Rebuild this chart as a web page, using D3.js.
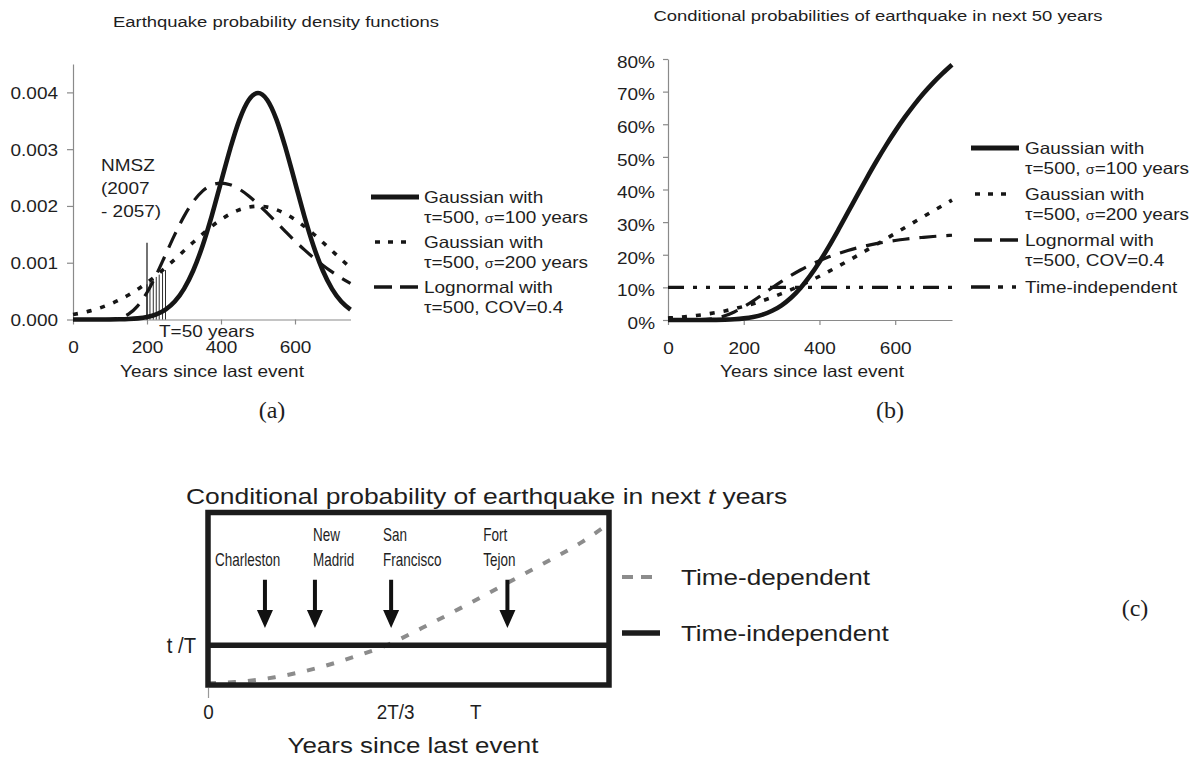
<!DOCTYPE html>
<html>
<head>
<meta charset="utf-8">
<script src="https://cdn.jsdelivr.net/npm/d3@7"></script>
<style>
  body { margin: 0; background: #fff; }
  svg { display: block; }
  text { font-family: "Liberation Sans", Arial, Helvetica, sans-serif; fill: #1e1e1e; }
  .serif { font-family: "Liberation Serif", "Times New Roman", serif; }
</style>
</head>
<body>
<svg id="fig" width="1200" height="758"></svg>
<script>
// ---------- data ----------
// years since last event (x) shared by the curves of panels (a) and (b)
const years = [0, 25, 50, 75, 100, 125, 150, 175, 200, 225, 250, 275, 300, 325, 350, 375,
               400, 425, 450, 475, 500, 525, 550, 575, 600, 625, 650, 675, 700, 725, 750];

// (a) probability density functions
const pdfGauss100 = [0, 0, 0, 0, 0.0000013, 0.0000035, 0.0000087, 0.0000203, 0.0000443, 0.0000909,
  0.000175, 0.000317, 0.000540, 0.000863, 0.001295, 0.001826, 0.002420, 0.003011, 0.003521, 0.003866,
  0.003989, 0.003866, 0.003521, 0.003011, 0.002420, 0.001826, 0.001295, 0.000863, 0.000540, 0.000317, 0.000175];
const pdfGauss200 = [0.0000876, 0.000119, 0.000159, 0.000209, 0.000270, 0.000344, 0.000431, 0.000533,
  0.000648, 0.000775, 0.000913, 0.001059, 0.001210, 0.001360, 0.001506, 0.001641, 0.001760, 0.001859,
  0.001933, 0.001979, 0.001995, 0.001979, 0.001933, 0.001859, 0.001760, 0.001641, 0.001506, 0.001360,
  0.001210, 0.001059, 0.000913];
const pdfLognormal = [0, 0, 0, 0, 0.0000037, 0.0000251, 0.0000937, 0.000240, 0.000475, 0.000786,
  0.001140, 0.001495, 0.001816, 0.002076, 0.002261, 0.002368, 0.002402, 0.002373, 0.002294, 0.002176,
  0.002033, 0.001874, 0.001709, 0.001544, 0.001383, 0.001230, 0.001088, 0.000957, 0.000838, 0.000731, 0.000636];

// shaded NMSZ window (2007-2057), T = 50 years
const windowYears = [200, 208, 217, 225, 233, 242, 250];
const windowTop   = [0.00062, 0.00066, 0.00071, 0.00075, 0.00079, 0.00083, 0.00087];
const nmszMarker  = { year: 200, top: 0.00135 };

// (b) conditional probability of an event in the next 50 years
const condGauss100 = [0, 0, 0, 0, 0.0002, 0.0005, 0.0011, 0.0024, 0.0049, 0.0093, 0.0166, 0.0282,
  0.0451, 0.0683, 0.0984, 0.1353, 0.1781, 0.2258, 0.2769, 0.3297, 0.3829, 0.4352, 0.4858, 0.5338,
  0.5789, 0.6208, 0.6595, 0.6950, 0.7270, 0.7561, 0.7826];
const condGauss200 = [0.0061, 0.0081, 0.0107, 0.0138, 0.0177, 0.0224, 0.0279, 0.0343, 0.0416, 0.0499,
  0.0593, 0.0696, 0.0808, 0.0929, 0.1059, 0.1197, 0.1341, 0.1492, 0.1649, 0.1810, 0.1974, 0.2142,
  0.2311, 0.2483, 0.2655, 0.2827, 0.2999, 0.3171, 0.3341, 0.3509, 0.3676];
const condLognormal = [0, 0, 0, 0.0003, 0.0017, 0.0053, 0.0128, 0.0245, 0.0402, 0.0588, 0.0787, 0.0989,
  0.1184, 0.1367, 0.1533, 0.1684, 0.1818, 0.1936, 0.2040, 0.2132, 0.2211, 0.2280, 0.2340, 0.2392,
  0.2437, 0.2476, 0.2508, 0.2535, 0.2560, 0.2580, 0.2597];
const condTimeIndependent = [0.10, 0.10];
const timeIndependentYears = [0, 750];

// tick labels
const pdfTicks  = [0, 0.001, 0.002, 0.003, 0.004];
const probTicks = [0, 0.1, 0.2, 0.3, 0.4, 0.5, 0.6, 0.7, 0.8];
const yearTicks = [0, 200, 400, 600];

// (c) schematic, x in units of the mean recurrence T
const cTickValues = [0, 2 / 3, 1];
const cTickLabels = ["0", "2T/3", "T"];
const cTimeIndependent = 0.23;            // t/T
const cDependentX = [0, 0.1, 0.25, 0.4, 0.55, 0.667, 0.8, 0.95, 1.1, 1.25, 1.4, 1.49];
const cDependentY = [0.01, 0.017, 0.045, 0.095, 0.165, 0.23, 0.33, 0.45, 0.575, 0.70, 0.83, 0.925];
const cities     = [["", "Charleston"], ["New", "Madrid"], ["San", "Francisco"], ["Fort", "Tejon"]];
const cityAt     = [0.213, 0.40, 0.685, 1.12];

// ---------- helpers ----------
const svg = d3.select("#fig");
svg.append("rect").attr("width", 1200).attr("height", 758).attr("fill", "#fff");

// the figure's lettering is slightly wide; widen each text by a factor
function widen(sel, k) {
  sel.each(function () {
    const L = this.getComputedTextLength();
    this.setAttribute("textLength", (L * k).toFixed(1));
    this.setAttribute("lengthAdjust", "spacingAndGlyphs");
  });
}
const K = 1.15;
const INK = "#161616";
const AXIS = "#8a8a8a";

function styleAxis(g) {
  g.select(".domain").attr("stroke", AXIS).attr("stroke-width", 1.2);
  g.selectAll(".tick line").attr("stroke", AXIS).attr("stroke-width", 1.2);
  g.selectAll(".tick text").attr("fill", "#1e1e1e").style("font-size", "16.5px")
    .attr("font-family", null);
  g.attr("font-family", null).attr("font-size", null);
}

// legend line with two text rows (second row may hold a small sigma)
function legendEntry(g, x0, x1, tx, y, style, line1, line2) {
  const ln = g.append("line").attr("x1", x0).attr("x2", x1).attr("y1", y).attr("y2", y)
    .attr("stroke", INK).attr("stroke-width", style.w);
  if (style.dash) ln.attr("stroke-dasharray", style.dash);
  const t1 = g.append("text").attr("x", tx).attr("y", y + 6).style("font-size", "16.5px").text(line1);
  widen(t1, K);
  if (line2) {
    const t2 = g.append("text").attr("x", tx).attr("y", y + 26).style("font-size", "16.5px");
    line2.forEach(p => {
      const s = t2.append("tspan").text(p.t);
      if (p.small) s.style("font-size", "12.5px");
    });
    widen(t2, K);
  }
}

// ---------- panel (a) ----------
const xA = d3.scaleLinear().domain([0, 750]).range([73, 350.5]);
const yA = d3.scaleLinear().domain([0, 0.0045]).range([319.5, 64]);
const gA = svg.append("g");

const tA = gA.append("text").attr("x", 276).attr("y", 27).attr("text-anchor", "middle")
  .style("font-size", "15.5px").text("Earthquake probability density functions");
widen(tA, 1.19);

const axYA = gA.append("g").attr("transform", `translate(${xA(0)},0)`)
  .call(d3.axisLeft(yA).tickValues(pdfTicks).tickFormat(d3.format(".3f")).tickSize(6).tickSizeOuter(0).tickPadding(9));
styleAxis(axYA);
axYA.selectAll(".tick text").attr("dy", "0.36em");
widen(axYA.selectAll(".tick text"), K);

const axXA = gA.append("g").attr("transform", `translate(0,${yA(0)})`)
  .call(d3.axisBottom(xA).tickValues(yearTicks).tickFormat(d3.format("d")).tickSize(5).tickSizeOuter(0).tickPadding(17));
styleAxis(axXA);
widen(axXA.selectAll(".tick text"), K);

const lineA = d3.line().x((d, i) => xA(years[i])).y(d => yA(d)).curve(d3.curveMonotoneX);

// NMSZ window: marker and hatching
gA.append("line").attr("x1", xA(nmszMarker.year)).attr("x2", xA(nmszMarker.year))
  .attr("y1", yA(0)).attr("y2", yA(nmszMarker.top)).attr("stroke", INK).attr("stroke-width", 1.2);
gA.append("g").selectAll("line").data(windowYears).join("line")
  .attr("x1", d => xA(d)).attr("x2", d => xA(d))
  .attr("y1", yA(0)).attr("y2", (d, i) => yA(windowTop[i]))
  .attr("stroke", INK).attr("stroke-width", 0.9);

gA.append("path").attr("d", lineA(pdfGauss200)).attr("fill", "none").attr("stroke", INK)
  .attr("stroke-width", 3.6).attr("stroke-dasharray", "5,9");
gA.append("path").attr("d", lineA(pdfLognormal)).attr("fill", "none").attr("stroke", INK)
  .attr("stroke-width", 3.2).attr("stroke-dasharray", "17,10");
gA.append("path").attr("d", lineA(pdfGauss100)).attr("fill", "none").attr("stroke", INK)
  .attr("stroke-width", 4.6);

[["NMSZ", 171], ["(2007", 194], ["- 2057)", 217]].forEach(([s, y]) => {
  widen(gA.append("text").attr("x", 101).attr("y", y).style("font-size", "16.5px").text(s), K);
});
widen(gA.append("text").attr("x", 159).attr("y", 337).style("font-size", "16.5px").text("T=50 years"), K);
widen(gA.append("text").attr("x", 212).attr("y", 377).attr("text-anchor", "middle")
  .style("font-size", "16.5px").text("Years since last event"), K);

const lgA = gA.append("g");
legendEntry(lgA, 371, 419, 424, 197, { w: 5 }, "Gaussian with",
  [{ t: "τ=500, " }, { t: "σ", small: true }, { t: "=100 years" }]);
legendEntry(lgA, 375, 406, 424, 242, { w: 3.6, dash: "5,8" }, "Gaussian with",
  [{ t: "τ=500, " }, { t: "σ", small: true }, { t: "=200 years" }]);
legendEntry(lgA, 374, 418, 424, 287, { w: 3.4, dash: "18,8" }, "Lognormal with",
  [{ t: "τ=500, COV=0.4" }]);

svg.append("text").attr("class", "serif").attr("x", 272).attr("y", 418).attr("text-anchor", "middle")
  .style("font-size", "24px").text("(a)");

// ---------- panel (b) ----------
const xB = d3.scaleLinear().domain([0, 750]).range([668, 952]);
const yB = d3.scaleLinear().domain([0, 0.8]).range([320, 59]);
const gB = svg.append("g");

const tB = gB.append("text").attr("x", 878).attr("y", 21).attr("text-anchor", "middle")
  .style("font-size", "15.5px").text("Conditional probabilities of earthquake in next 50 years");
widen(tB, 1.19);

const axYB = gB.append("g").attr("transform", `translate(${xB(0)},0)`)
  .call(d3.axisLeft(yB).tickValues(probTicks).tickFormat(d3.format(".0%")).tickSize(5).tickSizeOuter(0).tickPadding(8));
styleAxis(axYB);
axYB.selectAll(".tick text").attr("dy", "0.5em");
widen(axYB.selectAll(".tick text"), K);

const axXB = gB.append("g").attr("transform", `translate(0,${yB(0)})`)
  .call(d3.axisBottom(xB).tickValues(yearTicks).tickFormat(d3.format("d")).tickSize(5).tickSizeOuter(0).tickPadding(17));
styleAxis(axXB);
widen(axXB.selectAll(".tick text"), K);

const lineB = d3.line().x((d, i) => xB(years[i])).y(d => yB(d)).curve(d3.curveMonotoneX);
gB.append("path")
  .attr("d", d3.line().x((d, i) => xB(timeIndependentYears[i])).y(d => yB(d))(condTimeIndependent))
  .attr("fill", "none").attr("stroke", INK).attr("stroke-width", 3.4)
  .attr("stroke-dasharray", "16,9,4,9,4,9");
gB.append("path").attr("d", lineB(condGauss200)).attr("fill", "none").attr("stroke", INK)
  .attr("stroke-width", 3.6).attr("stroke-dasharray", "5,9");
gB.append("path").attr("d", lineB(condLognormal)).attr("fill", "none").attr("stroke", INK)
  .attr("stroke-width", 3.2).attr("stroke-dasharray", "17,10");
gB.append("path").attr("d", lineB(condGauss100)).attr("fill", "none").attr("stroke", INK)
  .attr("stroke-width", 4.6);

widen(gB.append("text").attr("x", 812).attr("y", 377).attr("text-anchor", "middle")
  .style("font-size", "16.5px").text("Years since last event"), K);

const lgB = gB.append("g");
legendEntry(lgB, 971, 1019, 1025, 148, { w: 5 }, "Gaussian with",
  [{ t: "τ=500, " }, { t: "σ", small: true }, { t: "=100 years" }]);
legendEntry(lgB, 975, 1006, 1025, 194, { w: 3.6, dash: "5,8" }, "Gaussian with",
  [{ t: "τ=500, " }, { t: "σ", small: true }, { t: "=200 years" }]);
legendEntry(lgB, 974, 1018, 1025, 240, { w: 3.4, dash: "18,8" }, "Lognormal with",
  [{ t: "τ=500, COV=0.4" }]);
legendEntry(lgB, 971, 1016, 1025, 287, { w: 3.4, dash: "19,8,5,9,4,100" }, "Time-independent", null);

svg.append("text").attr("class", "serif").attr("x", 890).attr("y", 418).attr("text-anchor", "middle")
  .style("font-size", "24px").text("(b)");

// ---------- panel (c) ----------
const xC = d3.scaleLinear().domain([0, 1.5]).range([208, 609]);
const yC = d3.scaleLinear().domain([0, 1]).range([685, 512.5]);
const gC = svg.append("g");

const tC = gC.append("text").attr("x", 186).attr("y", 504).style("font-size", "21.5px");
tC.append("tspan").text("Conditional probability of earthquake in next ");
tC.append("tspan").style("font-style", "italic").text("t");
tC.append("tspan").text(" years");
widen(tC, 1.23);

// time-dependent curve
gC.append("path")
  .attr("d", d3.line().x((d, i) => xC(cDependentX[i])).y(d => yC(d)).curve(d3.curveMonotoneX)(cDependentY))
  .attr("fill", "none").attr("stroke", "#8c8c8c").attr("stroke-width", 4).attr("stroke-dasharray", "8,12");

// time-independent level
gC.append("line").attr("x1", xC(0)).attr("x2", xC(1.5))
  .attr("y1", yC(cTimeIndependent)).attr("y2", yC(cTimeIndependent))
  .attr("stroke", "#1c1c1c").attr("stroke-width", 5.5);

// frame
gC.append("rect").attr("x", xC(0)).attr("y", yC(1)).attr("width", xC(1.5) - xC(0))
  .attr("height", yC(0) - yC(1)).attr("fill", "none").attr("stroke", "#1c1c1c").attr("stroke-width", 5.5);

// x axis labels (only the origin carries a tick)
const axC = gC.append("g").attr("transform", `translate(0,${yC(0) + 3})`)
  .call(d3.axisBottom(xC).tickValues(cTickValues).tickFormat((d, i) => cTickLabels[i]).tickSize(10).tickPadding(6));
axC.select(".domain").remove();
axC.selectAll(".tick line").attr("stroke", (d, i) => i === 0 ? "#999" : "none").attr("stroke-width", 1.2);
axC.attr("font-family", null).attr("font-size", null);
axC.selectAll(".tick text").attr("fill", "#1e1e1e").style("font-size", "21px")
  .attr("dx", (d, i) => i === 1 ? 9 : 0);
widen(axC.selectAll(".tick text"), 0.9);

widen(gC.append("text").attr("x", 196).attr("y", yC(cTimeIndependent) + 8).attr("text-anchor", "end")
  .style("font-size", "22px").text("t /T"), 0.92);

widen(gC.append("text").attr("x", 413).attr("y", 753).attr("text-anchor", "middle")
  .style("font-size", "22.5px").text("Years since last event"), 1.15);

// arrows and place names
const labelAt = [0.026, 0.393, 0.655, 1.03];
const arrowTop = 0.61, arrowTip = 0.33, headLen = 18, headHalf = 8, shaftHalf = 2;
cities.forEach((c, i) => {
  const x = xC(cityAt[i]), y0 = yC(arrowTop), y1 = yC(arrowTip);
  gC.append("path")
    .attr("d", `M${x - shaftHalf},${y0}H${x + shaftHalf}V${y1 - headLen}H${x + headHalf}L${x},${y1}L${x - headHalf},${y1 - headLen}H${x - shaftHalf}Z`)
    .attr("fill", "#111");
  const lx = xC(labelAt[i]);
  if (c[0]) widen(gC.append("text").attr("x", lx).attr("y", 541).style("font-size", "19px").text(c[0]), 0.71);
  widen(gC.append("text").attr("x", lx).attr("y", 566).style("font-size", "19px").text(c[1]), 0.71);
});

// legend
gC.append("line").attr("x1", 622).attr("x2", 653).attr("y1", 577).attr("y2", 577)
  .attr("stroke", "#8c8c8c").attr("stroke-width", 4).attr("stroke-dasharray", "11,8");
widen(gC.append("text").attr("x", 681).attr("y", 585).style("font-size", "22.5px").text("Time-dependent"), 1.16);
gC.append("line").attr("x1", 622).attr("x2", 660).attr("y1", 633).attr("y2", 633)
  .attr("stroke", "#1c1c1c").attr("stroke-width", 5.5);
widen(gC.append("text").attr("x", 681).attr("y", 641).style("font-size", "22.5px").text("Time-independent"), 1.15);

svg.append("text").attr("class", "serif").attr("x", 1135).attr("y", 616).attr("text-anchor", "middle")
  .style("font-size", "24px").text("(c)");
</script>
</body>
</html>
